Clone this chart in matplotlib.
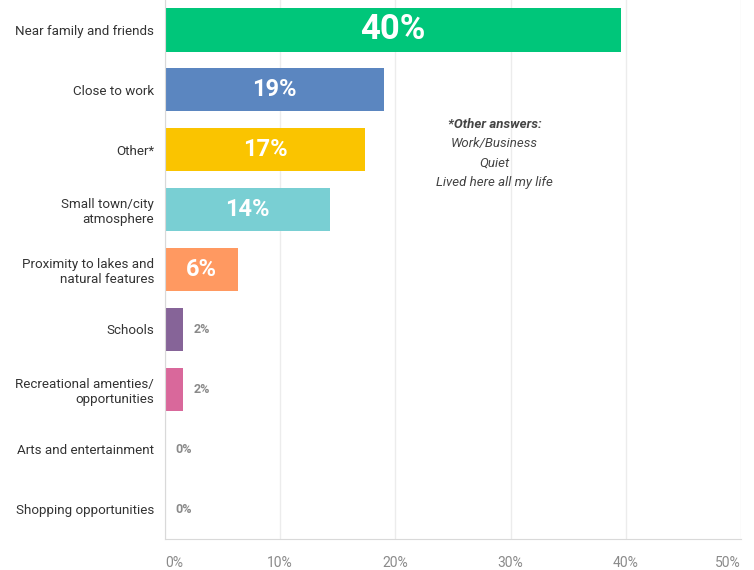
import matplotlib
matplotlib.use("Agg")
import matplotlib.pyplot as plt

categories = [
    "Near family and friends",
    "Close to work",
    "Other*",
    "Small town/city\natmosphere",
    "Proximity to lakes and\nnatural features",
    "Schools",
    "Recreational amenties/\nopportunities",
    "Arts and entertainment",
    "Shopping opportunities",
]
values = [39.6, 19.0, 17.4, 14.3, 6.3, 1.6, 1.6, 0.0, 0.0]
labels = ["40%", "19%", "17%", "14%", "6%", "2%", "2%", "0%", "0%"]
colors = ["#00C67A", "#5B86C0", "#FAC400", "#79CFD3", "#FF9961",
          "#866498", "#D9689B", "#cccccc", "#cccccc"]
note_lines = ["Work/Business", "Quiet", "Lived here all my life"]

plt.rcParams["font.family"] = ["Roboto", "DejaVu Sans"]

fig = plt.figure(figsize=(7.54, 5.70), dpi=100)
ax = fig.add_axes([165 / 754, 31 / 570, 576 / 754, 539 / 570])

y = list(range(len(categories)))
ax.barh(y, values, height=0.72, color=colors, linewidth=0, zorder=3)
ax.set_ylim(len(categories) - 0.5, -0.5)
ax.set_xlim(0, 50)
ax.set_xticks([0, 10, 20, 30, 40, 50])
ax.set_xticklabels([f"{t}%" for t in [0, 10, 20, 30, 40, 50]])
ax.tick_params(axis="x", length=0, pad=12, labelsize=10, labelcolor="#8a8a8a")
ax.set_yticks(y)
ax.set_yticklabels(categories, fontsize=9.6, color="#333333")
ax.tick_params(axis="y", length=0, pad=8)
for lab in ax.get_xticklabels():
    lab.set_horizontalalignment("left" if lab.get_text() == "0%" else "center")
ax.get_xticklabels()[-1].set_horizontalalignment("right")

ax.grid(axis="x", color="#ececec", linewidth=1, zorder=0)
for side in ["top", "right"]:
    ax.spines[side].set_visible(False)
ax.spines["left"].set_color("#d9d9d9")
ax.spines["bottom"].set_color("#d9d9d9")
ax.spines["left"].set_zorder(5)

for i, (v, lab) in enumerate(zip(values, labels)):
    if v >= 5:
        size = 25 if i == 0 else 17
        ax.text(v / 2, i, lab, ha="center", va="center", color="white",
                fontsize=size, fontweight="bold", zorder=4)
    else:
        ax.text(v + 0.9, i, lab, ha="left", va="center", color="#8a8a8a",
                fontsize=9, fontweight="bold", zorder=4)

ax.text(28.6, 1.58, "*Other answers:", ha="center", va="center", fontsize=9.5,
        fontweight="bold", fontstyle="italic", color="#444444")
for k, line in enumerate(note_lines):
    ax.text(28.6, 1.9 + 0.32 * k, line, ha="center", va="center", fontsize=9.5,
            fontstyle="italic", color="#444444")

fig.savefig("out.png", dpi=100)
